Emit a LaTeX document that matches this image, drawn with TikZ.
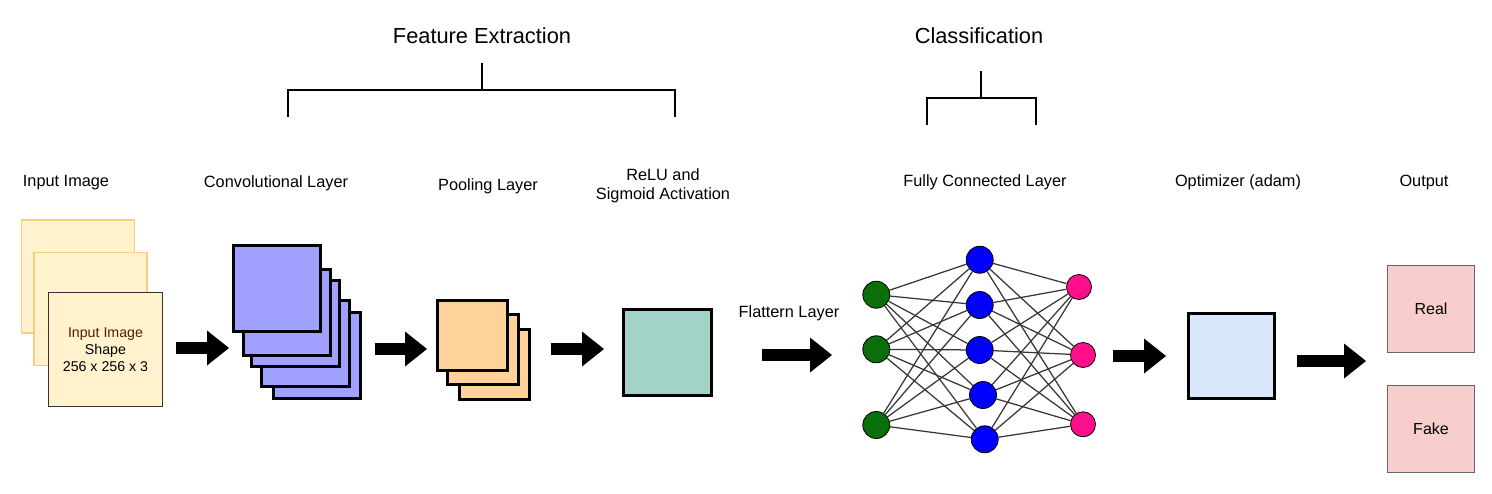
\documentclass[tikz,border=0pt]{standalone}
\usepackage{fontspec}
\setmainfont{Liberation Sans}
\usetikzlibrary{arrows.meta}
\definecolor{inputfill}{RGB}{255,242,204}
\definecolor{inputback}{RGB}{242,208,125}
\definecolor{convfill}{RGB}{160,160,255}
\definecolor{poolfill}{RGB}{255,209,155}
\definecolor{relufill}{RGB}{163,210,201}
\definecolor{optfill}{RGB}{218,232,252}
\definecolor{outfill}{RGB}{248,206,204}
\definecolor{outdraw}{RGB}{105,100,100}
\definecolor{ingreen}{RGB}{10,110,10}
\definecolor{hidblue}{RGB}{0,0,255}
\definecolor{outpink}{RGB}{255,15,140}
\definecolor{edgegray}{RGB}{55,55,55}
\definecolor{brownred}{RGB}{90,25,0}
\pgfdeclarelayer{bg}
\pgfdeclarelayer{edges}
\pgfsetlayers{bg,edges,main}
\begin{document}
\begin{tikzpicture}[x=1pt,y=-1pt,
  lbl/.style={font=\fontsize{16.3}{19}\selectfont, align=center, inner sep=0pt},
  ttl/.style={font=\fontsize{21.8}{26}\selectfont, inner sep=0pt},
  sq/.style={draw, rectangle, inner sep=0pt},
  inback/.style={sq, draw=inputback, fill=inputfill, line width=1.3pt, minimum width=113pt, minimum height=113pt},
  infront/.style={sq, draw=black!80, fill=inputfill, line width=1.2pt, minimum width=114pt, minimum height=114pt, align=center, font=\fontsize{14.2}{17}\selectfont},
  conv/.style={sq, fill=convfill, line width=2.6pt, minimum width=87.5pt, minimum height=86.5pt},
  pool/.style={sq, fill=poolfill, line width=2.6pt, minimum width=70.5pt, minimum height=70.5pt},
  relu/.style={sq, fill=relufill, line width=2.6pt, minimum width=88.5pt, minimum height=86.5pt},
  opt/.style={sq, fill=optfill, line width=2.6pt, minimum width=86.5pt, minimum height=85.5pt},
  outbox/.style={sq, draw=outdraw, fill=outfill, line width=1.4pt, minimum width=86.5pt, minimum height=86.5pt, font=\fontsize{16}{19}\selectfont},
  blockarrow/.style={line width=12pt, -{Triangle[length=22pt,width=35pt,line width=0pt]}},
  neuron/.style={circle, draw=black, line width=0.8pt, inner sep=0pt},
  inneuron/.style={neuron, fill=ingreen, minimum size=27pt},
  hidneuron/.style={neuron, fill=hidblue, minimum size=27pt},
  outneuron/.style={neuron, fill=outpink, minimum size=25pt},
  link/.style={draw=edgegray, line width=1.25pt},
  bracket/.style={line width=2pt, draw=black},
]
\useasboundingbox (0,0) rectangle (1492,493);
\begin{pgfonlayer}{bg}
\fill[white] (0,0) rectangle (1492,493);
\end{pgfonlayer}

% titles and brackets
\node[ttl] (tfe) at (482,36) {Feature Extraction};
\node[ttl] (tcl) at (979,36) {Classification};
\draw[bracket] (288,117) -- (288,90) -- (675,90) -- (675,117);
\draw[bracket] (482,90) -- (482,63);
\draw[bracket] (927,125) -- (927,98) -- (1036,98) -- (1036,125);
\draw[bracket] (981,98) -- (981,71);

% labels
\node[lbl] (l1) at (66,183) {Input Image};
\node[lbl] (l2) at (276,183) {Convolutional Layer};
\node[lbl] (l3) at (488,186) {Pooling Layer};
\node[lbl] (l4) at (663,185.5) {ReLU and\\Sigmoid Activation};
\node[lbl] (l5) at (789,313) {Flattern Layer};
\node[lbl] (l6) at (985,182) {Fully Connected Layer};
\node[lbl] (l7) at (1238,182) {Optimizer (adam)};
\node[lbl] (l8) at (1424,182) {Output};

% input image stack
\node[inback] (in1) at (78,276.5) {};
\node[inback] (in2) at (90.5,309) {};
\node[infront] (in3) at (105.5,349.5) {\textcolor{brownred}{Input Image}\\Shape\\256 x 256 x 3};

% convolutional stack
\node[conv] (c5) at (317,355.5) {};
\node[conv] (c4) at (305.5,343.5) {};
\node[conv] (c3) at (295.5,323.5) {};
\node[conv] (c2) at (287,312.5) {};
\node[conv] (c1) at (277,288.5) {};

% pooling stack
\node[pool] (p3) at (494.5,364.5) {};
\node[pool] (p2) at (483,349.5) {};
\node[pool] (p1) at (472.5,335.5) {};

% relu
\node[relu] (relu) at (667.5,352.5) {};

% fully connected
\node[inneuron] (g1) at (876.3,294.7) {};
\node[inneuron] (g2) at (876.3,349.3) {};
\node[inneuron] (g3) at (876.3,425) {};
\node[hidneuron] (b1) at (979.7,259.7) {};
\node[hidneuron] (b2) at (979.7,305) {};
\node[hidneuron] (b3) at (979.7,350) {};
\node[hidneuron] (b4) at (983,395) {};
\node[hidneuron] (b5) at (984.7,439.3) {};
\node[outneuron] (o1) at (1079,287) {};
\node[outneuron] (o2) at (1083,355) {};
\node[outneuron] (o3) at (1083,424.3) {};
\begin{pgfonlayer}{edges}
\foreach \g in {1,2,3} \foreach \b in {1,...,5} \draw[link] (g\g) -- (b\b);
\foreach \b in {1,...,5} \foreach \p in {1,2,3} \draw[link] (b\b) -- (o\p);
\end{pgfonlayer}

% optimizer and output
\node[opt] (opt) at (1231.5,356) {};
\node[outbox] (real) at (1431,309) {Real};
\node[outbox] (fake) at (1431,429) {Fake};

% block arrows
\coordinate (a1s) at (176,348);  \coordinate (a1e) at (229,348);
\coordinate (a2s) at (375,349);  \coordinate (a2e) at (427,349);
\coordinate (a3s) at (551,349);  \coordinate (a3e) at (604,349);
\coordinate (a4s) at (762,355);  \coordinate (a4e) at (832,355);
\coordinate (a5s) at (1113,356); \coordinate (a5e) at (1166,356);
\coordinate (a6s) at (1297,361); \coordinate (a6e) at (1366,361);
\draw[blockarrow] (a1s) -- (a1e);
\draw[blockarrow] (a2s) -- (a2e);
\draw[blockarrow] (a3s) -- (a3e);
\draw[blockarrow] (a4s) -- (a4e);
\draw[blockarrow] (a5s) -- (a5e);
\draw[blockarrow] (a6s) -- (a6e);
\end{tikzpicture}
\end{document}
